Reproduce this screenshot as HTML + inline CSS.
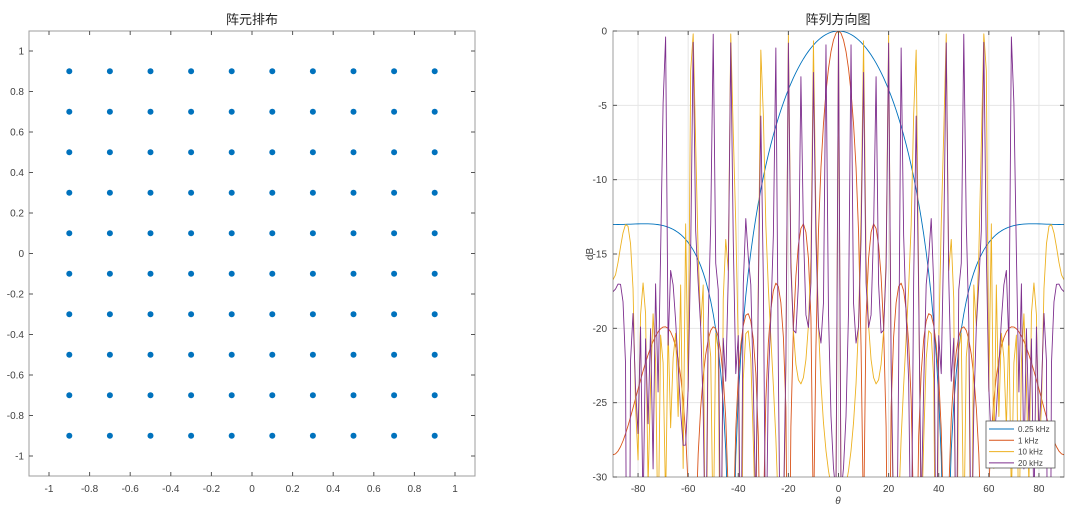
<!DOCTYPE html>
<html><head><meta charset="utf-8"><style>
html,body{margin:0;padding:0;background:#fff;width:1080px;height:513px;overflow:hidden}
svg{display:block}
svg text{font-family:"Liberation Sans","Noto Sans CJK SC",sans-serif;fill:#404040}
</style></head><body>
<svg id="s" width="1080" height="513" xmlns="http://www.w3.org/2000/svg">
<defs><clipPath id="c2"><rect x="613" y="31" width="451" height="446"/></clipPath></defs>
<g id="L"></g><g id="R"></g>
</svg>
<script>
const NS="http://www.w3.org/2000/svg";
function el(p,t,a,txt){const e=document.createElementNS(NS,t);for(const k in a)e.setAttribute(k,a[k]);if(txt!==undefined)e.textContent=txt;p.appendChild(e);return e;}
const L=document.getElementById('L'),R=document.getElementById('R');
const lx=v=>252+203*v, ly=v=>253.5-202.5*v;
el(L,'rect',{x:29,y:31,width:446,height:445,fill:'#fff',stroke:'#262626','stroke-opacity':0.45,'stroke-width':1});
for(let i=-5;i<=5;i++){const v=i*0.2;const X=lx(v),Y=ly(v);
 const lab=(Math.abs(v)<1e-9)?'0':(Math.round(v*10)/10).toString();
 el(L,'line',{x1:X,y1:476,x2:X,y2:472,stroke:'#555'});el(L,'line',{x1:X,y1:31,x2:X,y2:35,stroke:'#555'});
 el(L,'line',{x1:29,y1:Y,x2:33,y2:Y,stroke:'#555'});el(L,'line',{x1:475,y1:Y,x2:471,y2:Y,stroke:'#555'});
 el(L,'text',{x:X,y:492,'font-size':10,'text-anchor':'middle'},lab);
 el(L,'text',{x:24,y:Y+3.5,'font-size':10,'text-anchor':'end'},lab);}
el(L,'text',{x:252,y:24,'font-size':13,'text-anchor':'middle',style:'fill:#222'},'阵元排布');
for(let i=0;i<10;i++)for(let j=0;j<10;j++){el(L,'circle',{cx:lx(-0.9+0.2*i),cy:ly(-0.9+0.2*j),r:3,fill:'#0072BD'});}
const rx=v=>838.5+v*(451/180), ry=v=>31-v*(446/30);
el(R,'rect',{x:613,y:31,width:451,height:446,fill:'#fff'});
for(let v=-80;v<=80;v+=20){el(R,'line',{x1:rx(v),y1:31,x2:rx(v),y2:477,stroke:'#e6e6e6'});}
for(let v=-25;v<=-5;v+=5){el(R,'line',{x1:613,y1:ry(v),x2:1064,y2:ry(v),stroke:'#e6e6e6'});}
const cols=['#0072BD','#D95319','#EDB120','#7E2F8E'],fs=[250,1000,10000,20000];
const g=el(R,'g',{'clip-path':'url(#c2)'});
fs.forEach((f,k)=>{let d='';const N=10,dd=0.2,c=340;
 for(let i=0;i<=180;i++){const th=-90+i;const u=Math.PI*dd*f/c*Math.sin(th*Math.PI/180);
  let a=Math.abs(Math.sin(u))<1e-9?1:Math.sin(N*u)/(N*Math.sin(u));let db=20*Math.log10(Math.abs(a)+1e-12);if(db<-60)db=-60;
  d+=(i?'L':'M')+rx(th).toFixed(2)+' '+ry(db).toFixed(2);}
 el(g,'path',{d:d,fill:'none',stroke:cols[k],'stroke-width':0.9,'stroke-linejoin':'round'});});
el(R,'rect',{x:613,y:31,width:451,height:446,fill:'none',stroke:'#262626','stroke-opacity':0.45});
for(let v=-80;v<=80;v+=20){const X=rx(v);el(R,'line',{x1:X,y1:477,x2:X,y2:473,stroke:'#555'});el(R,'line',{x1:X,y1:31,x2:X,y2:35,stroke:'#555'});
 el(R,'text',{x:X,y:492,'font-size':10,'text-anchor':'middle'},String(v));}
for(let v=-30;v<=0;v+=5){const Y=ry(v);el(R,'line',{x1:613,y1:Y,x2:617,y2:Y,stroke:'#555'});el(R,'line',{x1:1064,y1:Y,x2:1060,y2:Y,stroke:'#555'});
 el(R,'text',{x:607,y:Y+3.5,'font-size':10,'text-anchor':'end'},String(v));}
el(R,'text',{x:838,y:24,'font-size':13,'text-anchor':'middle',style:'fill:#222'},'阵列方向图');
el(R,'text',{x:838,y:504,'font-size':10,'text-anchor':'middle','font-style':'italic'},'θ');
el(R,'text',{x:0,y:0,'font-size':10,'text-anchor':'middle',transform:'translate(593,254) rotate(-90)'},'dB');
el(R,'rect',{x:986,y:421,width:69,height:47,fill:'#fff',stroke:'#555','stroke-width':0.8});
['0.25 kHz','1 kHz','10 kHz','20 kHz'].forEach((t,k)=>{const Y=429+k*11.3;
 el(R,'line',{x1:989,y1:Y,x2:1014,y2:Y,stroke:cols[k],'stroke-width':1});
 el(R,'text',{x:1018,y:Y+3,'font-size':8},t);});
</script>
</body></html>
